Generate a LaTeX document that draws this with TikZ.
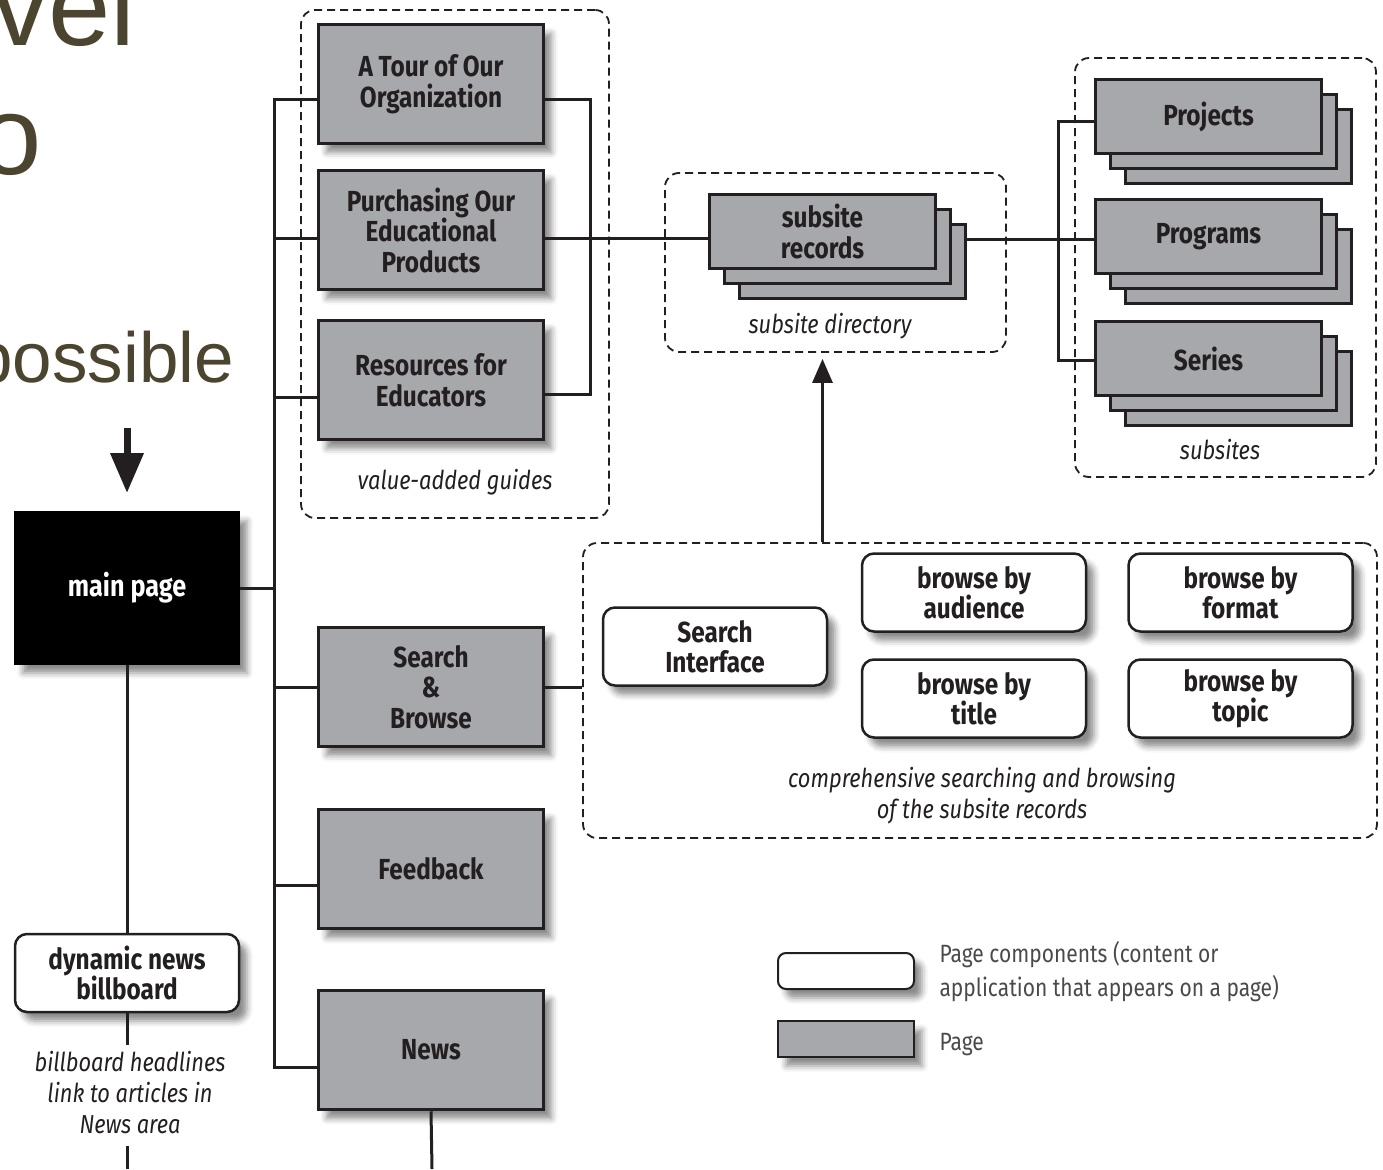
\documentclass[tikz,border=0pt]{standalone}
\usepackage{fontspec}
\setmainfont{Fira Sans}[FakeStretch=0.84]
\newfontfamily\headfont{Liberation Sans}
\usetikzlibrary{shadows.blur,arrows.meta}
\definecolor{pagegrey}{HTML}{A7A8AB}
\definecolor{ink}{HTML}{231F20}
\definecolor{olive}{HTML}{4B442F}
\definecolor{legendtxt}{HTML}{4A4A4A}

\begin{document}
\begin{tikzpicture}[x=1pt,y=-1pt,
  labelfont/.style={font=\fontsize{29}{30.5}\selectfont\bfseries},
  notefont/.style={font=\fontsize{26}{31}\selectfont\itshape},
  softshadow/.style={blur shadow={shadow xshift=8pt, shadow yshift=-9pt,
      shadow blur radius=6pt, shadow opacity=45}},
  pagebox/.style={draw=ink, line width=3.5pt, fill=pagegrey, text=ink,
      align=center, labelfont, minimum width=225pt, minimum height=119pt,
      softshadow},
  stackbox/.style={draw=ink, line width=3.5pt, fill=pagegrey, text=ink,
      align=center, labelfont, minimum width=226pt, minimum height=74pt},
  compbox/.style={draw=ink, line width=2.5pt, fill=white, text=ink,
      rounded corners=12pt, align=center, labelfont,
      minimum width=224pt, minimum height=78pt, softshadow},
  groupbox/.style={draw=ink, line width=1.8pt, dash pattern=on 8pt off 5pt,
      rounded corners=14pt},
  note/.style={text=ink, align=center, notefont},
  conn/.style={draw=ink, line width=3pt},
  headline/.style={text=olive, inner sep=0pt}
]
\useasboundingbox (0,0) rectangle (1383,1169);

% heading fragments at the left edge
\node[headline, anchor=base east, font=\headfont\fontsize{112}{112}\selectfont] (hVel) at (136,46) {vel};
\node[headline, anchor=base east, font=\headfont\fontsize{112}{112}\selectfont] (hO) at (42,175) {o};
\node[headline, anchor=base east, font=\headfont\fontsize{71}{71}\selectfont] (hPoss) at (234,382) {possible};

% dashed groups
\node[groupbox, minimum width=308pt, minimum height=508pt] (gGuides) at (455,264) {};
\node[groupbox, minimum width=341pt, minimum height=179pt] (gDir) at (835.5,262.5) {};
\node[groupbox, minimum width=301pt, minimum height=419pt] (gSub) at (1225.5,267.5) {};
\node[groupbox, minimum width=794pt, minimum height=295pt] (gSearch) at (980,690.5) {};

% main page and news billboard
\node[draw=black, line width=2pt, fill=black, text=white,
      font=\fontsize{30}{31}\selectfont\bfseries,
      minimum width=224pt, minimum height=152pt, softshadow] (main) at (127,588) {main page};
\node[compbox] (bill) at (127,973) {dynamic news\\billboard};
\node[note] (billnote) at (130,1093) {billboard headlines\\link to articles in\\News area};

% pages
\node[pagebox] (tour)  at (431,84)   {A Tour of Our\\Organization};
\node[pagebox] (purch) at (431,230)  {Purchasing Our\\Educational\\Products};
\node[pagebox] (res)   at (431,380)  {Resources for\\Educators};
\node[pagebox] (srch)  at (431,687)  {Search\\\&\\Browse};
\node[pagebox] (feed)  at (431,869)  {Feedback};
\node[pagebox] (news)  at (431,1050) {News};

% subsite records stack
\node[stackbox] (rec3) at (852.5,261.5) {};
\node[stackbox] (rec2) at (837.5,246.5) {};
\node[stackbox] (rec)  at (822.5,231.5) {subsite\\records};

% subsite stacks
\node[stackbox] (proj3) at (1238.5,146.5) {};
\node[stackbox] (proj2) at (1223.5,131.5) {};
\node[stackbox] (proj)  at (1208.5,116.5) {Projects};
\node[stackbox] (prog3) at (1238.5,266.5) {};
\node[stackbox] (prog2) at (1223.5,251.5) {};
\node[stackbox] (prog)  at (1208.5,236.5) {Programs};
\node[stackbox] (ser3)  at (1238.5,388.5) {};
\node[stackbox] (ser2)  at (1223.5,373.5) {};
\node[stackbox] (ser)   at (1208.5,358.5) {Series};

% page components
\node[compbox] (sint) at (715,646.5)    {Search\\Interface};
\node[compbox] (aud)  at (974,592.5)    {browse by\\audience};
\node[compbox] (fmt)  at (1240.5,592.5) {browse by\\format};
\node[compbox] (tit)  at (974,698.5)    {browse by\\title};
\node[compbox] (topc) at (1240.5,698.5) {browse by\\topic};

% group labels
\node[note] (lGuides) at (455,482) {value-added guides};
\node[note] (lDir)    at (830,326) {subsite directory};
\node[note] (lSub)    at (1220,450) {subsites};
\node[note] (lSearch) at (982,796) {comprehensive searching and browsing\\of the subsite records};

% legend
\node[compbox, line width=2pt, minimum width=136pt, minimum height=36pt, rounded corners=8pt] (legComp) at (846,971) {};
\node[draw=ink, line width=2.5pt, fill=pagegrey, minimum width=136pt, minimum height=36pt, softshadow] (legPage) at (846,1039) {};
\node[anchor=north west, text=legendtxt, align=left, font=\fontsize{25}{34}\selectfont] (legCompTxt) at (936,938)
  {Page components (content or\\application that appears on a page)};
\node[anchor=west, text=legendtxt, font=\fontsize{25}{34}\selectfont] (legPageTxt) at (936,1045) {Page};

% junction points
\coordinate (j1) at (274,100);
\coordinate (j2) at (274,238);
\coordinate (j3) at (274,397);
\coordinate (j6) at (274,885);
\coordinate (j7) at (274,1067);
\coordinate (b1) at (590,100);
\coordinate (b2) at (590,394);
\coordinate (c1) at (600,238);
\coordinate (k)  at (1058,239);
\coordinate (kT) at (1058,122);
\coordinate (kB) at (1058,360);
\coordinate (arrTop) at (127,428);
\coordinate (billEnd) at (127,1045);
\coordinate (noteEnd) at (127,1146);
\coordinate (bottomL) at (127,1169);
\coordinate (bottomR) at (432,1169);

% trunk and branches
\draw[conn] (j1 -| tour.west) -- (j1) -- (j7) -- (j7 -| news.west);
\draw[conn] (j2) -- (j2 -| purch.west);
\draw[conn] (j3) -- (j3 -| res.west);
\draw[conn] (main.east) -- (main.east -| j1);
\draw[conn] (srch.west) -- (srch.west -| j1);
\draw[conn] (j6) -- (j6 -| feed.west);

% guides bracket and link to the directory
\draw[conn] (b1 -| tour.east) -- (b1) -- (b2) -- (b2 -| res.east);
\draw[conn] (c1 -| purch.east) -- (c1 -| rec.west);
\draw[conn] (k -| rec3.east) -- (k) -- (k -| prog.west);
\draw[conn] (kT -| proj.west) -- (kT) -- (kB) -- (kB -| ser.west);

% search group
\draw[conn] (srch.east) -- (srch.east -| gSearch.west);
\draw[conn, -{Triangle[length=24pt, width=20pt]}, shorten >=6pt] (gSearch.north -| rec.south) -- (gDir.south -| rec.south);

% main page column
\draw[ink, line width=7pt, -{Triangle[length=40pt, width=32pt]}, shorten >=18pt] (arrTop) -- (main.north);
\draw[conn] (main.south) -- (bill.north);
\draw[conn] (bill.south) -- (billEnd);
\draw[conn] (noteEnd) -- (bottomL);
\draw[conn] (news.south) -- (bottomR);
\end{tikzpicture}
\end{document}
